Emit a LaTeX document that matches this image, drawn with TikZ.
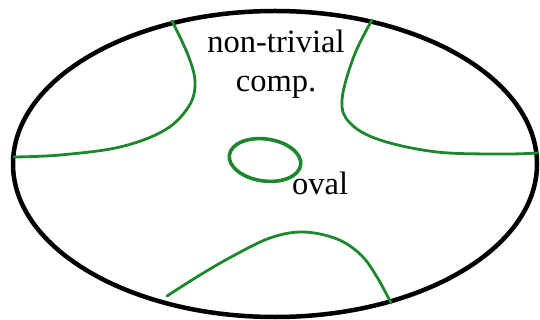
\documentclass[tikz,border=0pt]{standalone}
\usepackage{fontspec}
\setmainfont{Liberation Serif}
\usepackage{tikz}
\usetikzlibrary{positioning}
\definecolor{compgreen}{RGB}{30,135,45}

\begin{document}
\begin{tikzpicture}[x=1pt, y=-1pt, line cap=round, line join=round]
  \useasboundingbox (0,0) rectangle (540,320);
  % the ambient curve
  \draw[line width=4.5pt] (275,164) ellipse [x radius=262, y radius=153];
  % non-trivial component, four branches
  \draw[compgreen,line width=2.8pt] plot[smooth,tension=0.6] coordinates
    {(172,21) (188,55) (195,82) (189,106) (165,130) (120,147) (60,155) (14,157)};
  \draw[compgreen,line width=2.8pt] plot[smooth,tension=0.6] coordinates
    {(372,20) (354,56) (342,100) (350,123) (380,140) (437,152) (503,154) (537,153)};
  \draw[compgreen,line width=2.8pt] plot[smooth,tension=0.6] coordinates
    {(167,296) (200,275) (233,256) (270,238) (303,232) (337,239) (361,255) (377,277) (391,303)};
  % the oval
  \draw[compgreen,line width=3.6pt,rotate around={-8:(265,160)}] (265,160) ellipse [x radius=36, y radius=21];
  % labels
  \node[font=\fontsize{32.5}{39}\selectfont, align=center, anchor=base] (comp) at (276,92)
    {non-trivial\\comp.};
  \node[font=\fontsize{32.5}{39}\selectfont, anchor=base west, inner sep=0pt] (oval) at (292,195) {oval};
\end{tikzpicture}
\end{document}
